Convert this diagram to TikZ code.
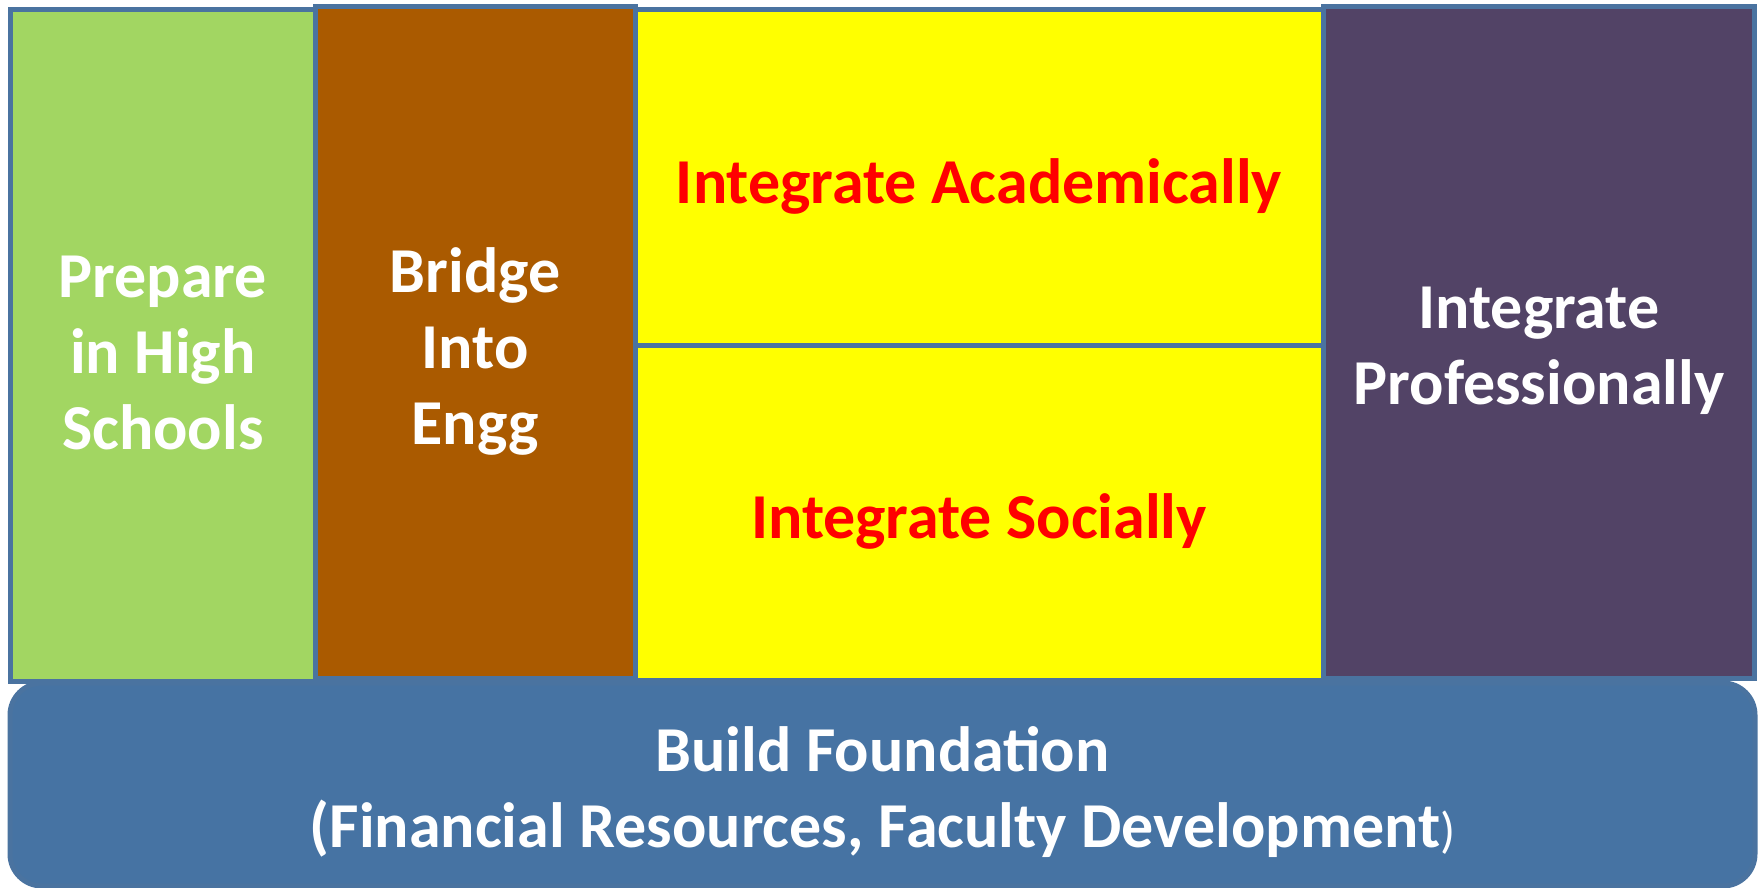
\documentclass[tikz,border=0pt]{standalone}
\usepackage{fontspec}
\setmainfont{Carlito}
\definecolor{edgeblue}{HTML}{4A73A0}
\definecolor{foundblue}{HTML}{4673A3}
\definecolor{leafgreen}{HTML}{A2D662}
\definecolor{bridgebrown}{HTML}{AA5A00}
\definecolor{plum}{HTML}{524366}
\definecolor{brightyellow}{HTML}{FFFF00}
\definecolor{txtred}{HTML}{FF0000}
\tikzset{
  block/.style={draw=edgeblue, line width=5pt, inner sep=0pt},
  label text/.style={inner sep=0pt, align=center,
    font=\fontsize{64}{76}\selectfont\bfseries},
  whitetxt/.style={label text, text=white},
  redtxt/.style={label text, text=txtred},
}
\begin{document}
\begin{tikzpicture}[x=1pt,y=-1pt]
\useasboundingbox (0,0) rectangle (1762,888);
\node[block, fill=leafgreen, minimum width=304.5pt, minimum height=671.5pt] (prep) at (162.75,345.25) {};
\node[block, fill=bridgebrown, minimum width=320pt, minimum height=671.5pt] (bridge) at (475,342.25) {};
\node[block, fill=brightyellow, minimum width=688pt, minimum height=336pt] (acad) at (979,177.5) {};
\node[block, fill=brightyellow, minimum width=688pt, minimum height=334.5pt] (soc) at (979,512.75) {};
\node[block, fill=plum, minimum width=431pt, minimum height=671.5pt] (prof) at (1539,342.25) {};
\node[block, fill=foundblue, rounded corners=32pt, minimum width=1745pt, minimum height=203pt] (found) at (882.5,784.5) {};
\node[whitetxt] (prep-t) at ([yshift=-8pt]prep.center) {Prepare\\in High\\Schools};
\node[whitetxt] (bridge-t) at ([yshift=-9pt]bridge.center) {Bridge\\Into\\Engg};
\node[redtxt] (acad-t) at ([yshift=-9pt]acad.center) {Integrate Academically};
\node[redtxt] (soc-t) at ([yshift=-9pt]soc.center) {Integrate Socially};
\node[whitetxt] (prof-t) at ([yshift=-9pt]prof.center) {Integrate\\Professionally};
\node[whitetxt] (found-t) at ([yshift=-8pt]found.center) {Build Foundation\\(Financial Resources, Faculty Development{\fontsize{50}{60}\selectfont\mdseries )}};
\end{tikzpicture}
\end{document}
